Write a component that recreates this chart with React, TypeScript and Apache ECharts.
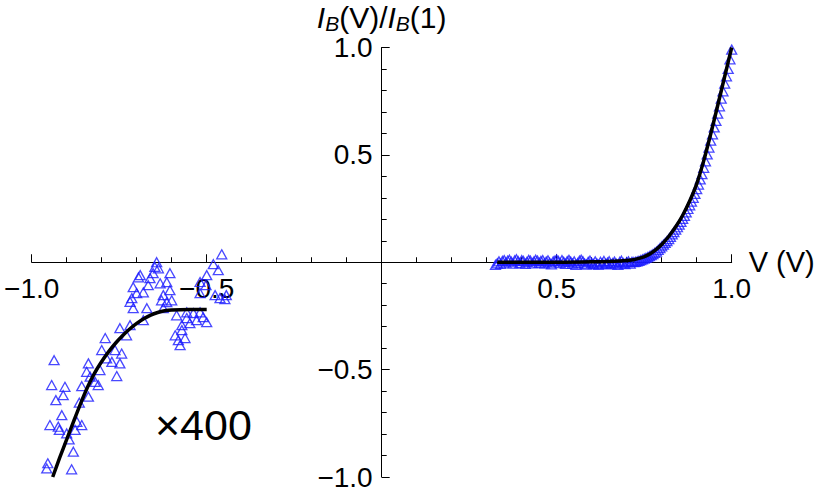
import React, { useEffect, useRef } from "react";
import * as echarts from "echarts";

// Left branch (scaled ×400) measured points
const leftX = [
  -0.457, -0.481, -0.467, -0.5, -0.502, -0.519, -0.476, -0.444, -0.462, -0.448,
  -0.643, -0.648, -0.638, -0.605, -0.653, -0.662, -0.69, -0.695, -0.71, -0.681,
  -0.7, -0.667, -0.633, -0.614, -0.605, -0.624, -0.629, -0.614, -0.6, -0.714,
  -0.71, -0.671, -0.624, -0.681, -0.586, -0.557, -0.538, -0.519, -0.557, -0.529,
  -0.51, -0.5, -0.571, -0.548, -0.571, -0.59, -0.562, -0.581, -0.576, -0.729,
  -0.748, -0.79, -0.519, -0.719, -0.719, -0.8, -0.762, -0.743, -0.786, -0.771,
  -0.748, -0.838, -0.805, -0.757, -0.843, -0.936, -0.943, -0.905, -0.857, -0.819,
  -0.81, -0.833, -0.931, -0.91, -0.864, -0.838, -0.914, -0.948, -0.924, -0.921,
  -0.871, -0.857, -0.876, -0.9, -0.893, -0.881, -0.954, -0.957, -0.886,
];
const leftY = [
  0.037, -0.009, -0.037, -0.06, -0.107, -0.144, -0.153, -0.153, -0.167, -0.172,
  0.0, -0.022, -0.028, -0.051, -0.051, -0.074, -0.06, -0.07, -0.116, -0.14,
  -0.144, -0.107, -0.098, -0.093, -0.13, -0.153, -0.177, -0.186, -0.177, -0.167,
  -0.214, -0.214, -0.214, -0.27, -0.247, -0.233, -0.237, -0.233, -0.26, -0.27,
  -0.256, -0.279, -0.293, -0.284, -0.316, -0.34, -0.353, -0.363, -0.386, -0.34,
  -0.307, -0.353, -0.092, -0.184, -0.293, -0.409, -0.409, -0.425, -0.448, -0.464,
  -0.471, -0.471, -0.502, -0.53, -0.51, -0.456, -0.572, -0.58, -0.577, -0.557,
  -0.572, -0.533, -0.642, -0.619, -0.654, -0.626, -0.712, -0.758, -0.766, -0.781,
  -0.743, -0.758, -0.781, -0.797, -0.825, -0.882, -0.936, -0.96, -0.964,
];

// Right branch measured points
const rightX = [
  0.325, 0.33, 0.335, 0.34, 0.345, 0.35, 0.355, 0.36, 0.365, 0.37, 0.375, 0.38, 0.385, 0.39, 0.395,
  0.4, 0.405, 0.41, 0.415, 0.42, 0.425, 0.43, 0.435, 0.44, 0.445, 0.45, 0.455, 0.46, 0.465, 0.47,
  0.475, 0.48, 0.485, 0.49, 0.495, 0.5, 0.505, 0.51, 0.515, 0.52, 0.525, 0.53, 0.535, 0.54, 0.545,
  0.55, 0.555, 0.56, 0.565, 0.57, 0.575, 0.58, 0.585, 0.59, 0.595, 0.6, 0.605, 0.61, 0.615, 0.62,
  0.625, 0.63, 0.635, 0.64, 0.645, 0.65, 0.655, 0.66, 0.665, 0.67, 0.675, 0.68, 0.685, 0.69, 0.695,
  0.7, 0.705, 0.71, 0.715, 0.72, 0.725, 0.73, 0.735, 0.74, 0.745, 0.75, 0.755, 0.76, 0.765, 0.77,
  0.775, 0.78, 0.785, 0.79, 0.795, 0.8, 0.805, 0.81, 0.815, 0.82, 0.825, 0.83, 0.835, 0.84, 0.845,
  0.85, 0.855, 0.86, 0.865, 0.87, 0.875, 0.88, 0.885, 0.89, 0.895, 0.9, 0.905, 0.91, 0.915, 0.92,
  0.925, 0.93, 0.935, 0.94, 0.945, 0.95, 0.955, 0.96, 0.965, 0.97, 0.975, 0.98, 0.985, 0.99, 0.995,
  1.0,
];
const rightY = [
  -0.012, -0.005, 0.004, -0.008, 0.006, 0.01, -0.002, 0.008, 0.012, 0.003, -0.006, 0.009, 0.014, 0.005, -0.004,
  0.01, 0.006, -0.008, 0.002, 0.011, 0.007, -0.005, 0.004, 0.012, 0.008, -0.003, 0.006, 0.01, -0.006, 0.003,
  0.009, -0.002, -0.01, 0.004, 0.008, 0.013, 0.006, -0.004, 0.01, 0.002, -0.008, 0.005, 0.011, 0.003, -0.006,
  0.004, -0.012, -0.004, 0.007, 0.012, 0.005, -0.006, -0.011, 0.002, 0.008, -0.003, -0.009, 0.004, -0.006, -0.012,
  0.002, -0.005, 0.006, -0.008, -0.002, 0.005, -0.01, -0.004, 0.003, -0.007, -0.012, 0.002, 0.007, -0.004, -0.009,
  0.0, 0.004, -0.006, 0.002, 0.0, 0.002, 0.004, 0.006, 0.01, 0.013, 0.017, 0.02, 0.024, 0.028, 0.033,
  0.038, 0.044, 0.05, 0.058, 0.066, 0.074, 0.082, 0.09, 0.098, 0.108, 0.118, 0.13, 0.14, 0.152, 0.163,
  0.175, 0.188, 0.202, 0.216, 0.232, 0.248, 0.265, 0.282, 0.3, 0.318, 0.34, 0.362, 0.386, 0.41, 0.44,
  0.47, 0.502, 0.534, 0.566, 0.596, 0.628, 0.658, 0.692, 0.726, 0.762, 0.796, 0.832, 0.866, 0.9, 0.945,
  0.99,
];

// Fitted curves
const fitLeftX = [-0.94, -0.92, -0.9, -0.88, -0.86, -0.84, -0.82, -0.8, -0.78, -0.76, -0.74, -0.72, -0.7, -0.68, -0.66, -0.64, -0.62, -0.6, -0.55, -0.5];
const fitLeftY = [-1.0, -0.91, -0.825, -0.74, -0.657, -0.58, -0.515, -0.462, -0.416, -0.376, -0.341, -0.311, -0.285, -0.263, -0.246, -0.234, -0.226, -0.222, -0.22, -0.22];
const fitRightX = [0.33, 0.5, 0.6, 0.68, 0.72, 0.74, 0.76, 0.78, 0.8, 0.82, 0.84, 0.86, 0.88, 0.9, 0.92, 0.94, 0.96, 0.98, 1.0];
const fitRightY = [0.0, 0.0, 0.002, 0.006, 0.012, 0.02, 0.033, 0.054, 0.083, 0.12, 0.165, 0.219, 0.285, 0.365, 0.472, 0.597, 0.73, 0.865, 1.0];

const xTicks = [-1, -0.5, 0, 0.5, 1];
const yTicks = [-1, -0.5, 0, 0.5, 1];

const FONT = "Liberation Sans, Arial, sans-serif";
const BLUE = "#1a1aff";

const GRID_W = 700;
const GRID_H = 429.5;

const fmt = (v: number) => {
  if (Math.abs(v) < 1e-9) return "";
  return (v < 0 ? "\u2212" : "") + Math.abs(v).toFixed(1);
};

const zip = (xs: number[], ys: number[]) => xs.map((x, i) => [x, ys[i]]);

export default function App() {
  const ref = useRef<HTMLDivElement>(null);
  useEffect(() => {
    if (!ref.current) return;
    const chart = echarts.init(ref.current, null, { renderer: "svg" });
    const axisCommon = {
      type: "value",
      interval: 0.5,
      axisLine: { onZero: false, lineStyle: { color: "#000", width: 1 } },
      axisTick: { inside: true, length: 8, lineStyle: { color: "#000", width: 1 } },
      minorTick: { show: true, splitNumber: 5, length: 5, lineStyle: { color: "#000", width: 1 } },
      splitLine: { show: false },
      minorSplitLine: { show: false },
    };
    const triStyle = { color: "rgba(0,0,0,0)", borderColor: BLUE, borderWidth: 1.3 };
    chart.setOption({
      animation: false,
      grid: { left: 31.7, top: 47.5, width: GRID_W, height: GRID_H, containLabel: false, outerBoundsMode: "none" },
      xAxis: {
        ...axisCommon,
        min: xTicks[0],
        max: xTicks[xTicks.length - 1],
        position: "bottom",
        offset: -GRID_H / 2,
        nameMoveOverlap: false,
        axisLabel: { formatter: fmt, fontSize: 28, fontFamily: FONT, color: "#000", margin: 12, lineHeight: 28 },
        name: "V (V)",
        nameLocation: "end",
        nameGap: 17,
        nameTextStyle: { fontSize: 29, fontFamily: FONT, color: "#000", align: "left", verticalAlign: "middle", padding: [0, 0, 6, 0] },
      },
      yAxis: {
        ...axisCommon,
        min: yTicks[0],
        max: yTicks[yTicks.length - 1],
        position: "left",
        offset: -GRID_W / 2,
        axisLabel: { formatter: fmt, fontSize: 28, fontFamily: FONT, color: "#000", margin: 9 },
        name: "{i|I}{s|B}{n|(V)/}{i|I}{s|B}{n|(1)}",
        nameLocation: "end",
        nameGap: 11,
        nameTextStyle: {
          fontSize: 30,
          fontFamily: FONT,
          color: "#000",
          rich: {
            i: { fontSize: 30, fontStyle: "italic", fontFamily: FONT, color: "#000", lineHeight: 32 },
            s: { fontSize: 21, fontStyle: "italic", fontFamily: FONT, color: "#000", lineHeight: 22, verticalAlign: "bottom" },
            n: { fontSize: 30, fontFamily: FONT, color: "#000", lineHeight: 32 },
          },
        },
      },
      series: [
        { type: "scatter", data: zip(leftX, leftY), symbol: "triangle", symbolSize: [10, 9], itemStyle: triStyle, z: 2 },
        { type: "scatter", data: zip(rightX, rightY), symbol: "triangle", symbolSize: [10, 9], itemStyle: triStyle, z: 2 },
        {
          type: "line",
          data: zip(fitLeftX, fitLeftY),
          showSymbol: false,
          smooth: 0.3,
          lineStyle: { color: "#000", width: 3.5 },
          z: 5,
        },
        {
          type: "line",
          data: zip(fitRightX, fitRightY),
          showSymbol: false,
          smooth: 0.3,
          lineStyle: { color: "#000", width: 3.5 },
          z: 5,
        },
      ],
      graphic: [
        {
          type: "text",
          x: 155,
          y: 425,
          style: { text: "\u00d7400", font: `43px ${FONT}`, fill: "#000", verticalAlign: "middle", align: "left" },
        },
      ],
    });
    return () => chart.dispose();
  }, []);
  return (
    <div
      ref={ref}
      style={{ position: "fixed", left: 0, top: 0, width: 822, height: 492, background: "#fff" }}
    />
  );
}
